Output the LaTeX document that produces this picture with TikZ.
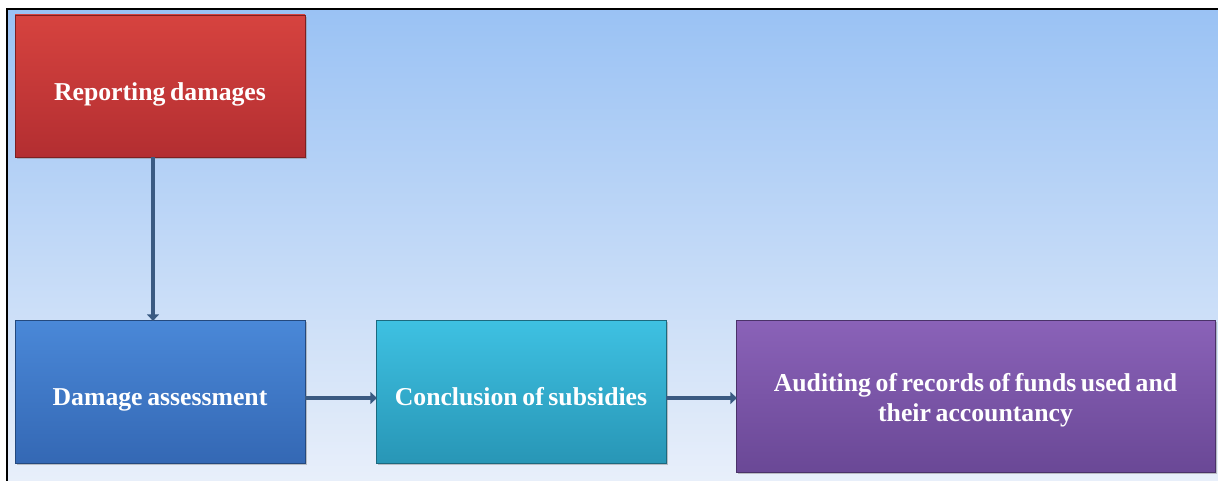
\documentclass[tikz,border=0pt]{standalone}
\usepackage{fontspec}
\setmainfont{Liberation Serif}
\usetikzlibrary{shadows,arrows.meta}
\definecolor{bgtop}{HTML}{9AC2F4}
\definecolor{bgbot}{HTML}{E8EFFA}
\definecolor{redtop}{HTML}{D6433F}
\definecolor{redbot}{HTML}{B32E31}
\definecolor{bluetop}{HTML}{4A88D8}
\definecolor{bluebot}{HTML}{3468B4}
\definecolor{cyantop}{HTML}{3EC1E2}
\definecolor{cyanbot}{HTML}{2896B6}
\definecolor{purtop}{HTML}{8A62B8}
\definecolor{purbot}{HTML}{6A4896}
\definecolor{arrowc}{HTML}{3A5A82}
\newcommand{\myboxfont}{\bfseries\fontsize{19.3}{22.5}\selectfont\spaceskip=0.18em plus 0.02em\relax}
\tikzset{
  box/.style={draw=#1bot!70!black, line width=0.6pt, top color=#1top, bottom color=#1bot,
    drop shadow={shadow xshift=1.5pt, shadow yshift=-1.5pt, fill=black!45, opacity=0.5},
    inner sep=0pt},
  lbl/.style={text=white, font=\myboxfont, align=center, inner sep=0pt},
  conn/.style={draw=arrowc, line width=3.5pt, -{Triangle[length=5pt,width=9pt]}, shorten >=-1pt}
}
\begin{document}
\begin{tikzpicture}[x=0.75pt,y=-0.75pt]
\useasboundingbox (0,0) rectangle (1218,481);
\fill[white] (0,0) rectangle (1218,481);
\shade[top color=bgtop, bottom color=bgbot] (7,9) rectangle (1218,481);
\draw[black, line width=2.2pt] (7,481) -- (7,9) -- (1218,9);
\node[box=red, minimum width=290*0.75pt, minimum height=142*0.75pt] (rep) at (160,86) {};
\node[box=blue, minimum width=290*0.75pt, minimum height=143*0.75pt] (dam) at (160,391.5) {};
\node[box=cyan, minimum width=290*0.75pt, minimum height=143*0.75pt] (con) at (521,391.5) {};
\node[box=pur, minimum width=479*0.75pt, minimum height=152*0.75pt] (aud) at (975.5,396) {};
\node[lbl, yshift=-6pt] (rept) at (rep.center) {Reporting damages};
\node[lbl, yshift=-6pt] (damt) at (dam.center) {Damage assessment};
\node[lbl, yshift=-4pt] (cont) at (con.center) {Conclusion of subsidies};
\node[lbl, yshift=-3pt] (audt) at (aud.center) {Auditing of records of funds used and\\ their accountancy};
\draw[conn] (rep.south -| 153,0) -- (dam.north -| 153,0);
\draw[conn] (dam.east |- 0,398) -- (con.west |- 0,398);
\draw[conn] (con.east |- 0,398) -- (aud.west |- 0,398);
\end{tikzpicture}
\end{document}
